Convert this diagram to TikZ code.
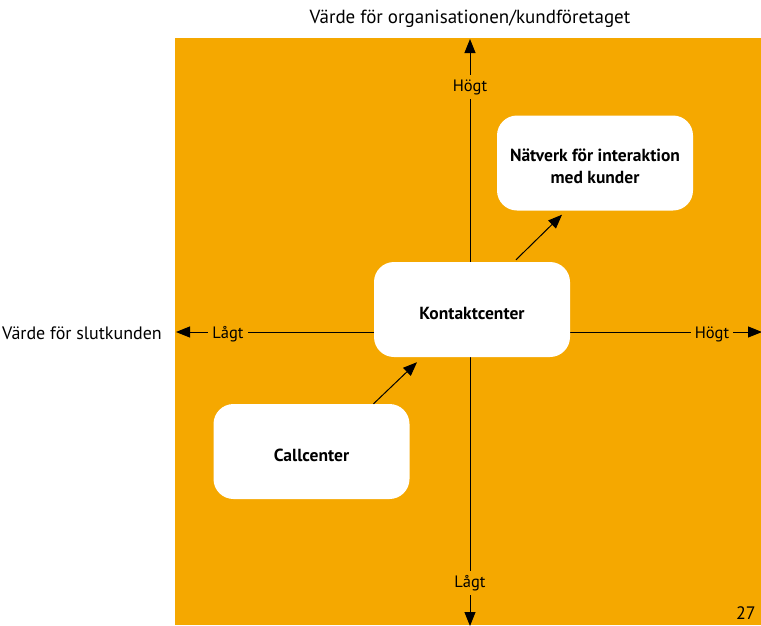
\documentclass[tikz,border=0pt]{standalone}
\usepackage{fontspec}
\setmainfont{PT Sans}
\usetikzlibrary{arrows.meta}
\definecolor{bgorange}{HTML}{F5A800}
\newcommand\lowtxt[1]{\raisebox{-3.5pt}[\height][\depth]{#1}}
\begin{document}
\begin{tikzpicture}[x=1pt,y=-1pt,
 box/.style={fill=white, rounded corners=20pt, minimum width=196pt, minimum height=95pt, align=center, inner sep=0pt, font=\fontsize{17.5}{22}\selectfont\bfseries},
 lbl/.style={fill=bgorange, inner sep=4pt, font=\fontsize{16.5}{18}\selectfont},
 ttl/.style={inner sep=0pt, font=\fontsize{18}{20}\selectfont},
 arr/.style={line width=1pt, -{Triangle[length=14pt,width=11pt]}}]
\useasboundingbox (0,0) rectangle (761,625);
\fill[bgorange] (175,38) rectangle (761,625);
% axes
\coordinate (o) at (470,332);
\coordinate (top) at (470,39);
\coordinate (bot) at (470,626);
\coordinate (lft) at (176,332);
\coordinate (rgt) at (762,332);
\draw[arr] (o) -- (top);
\draw[arr] (o) -- (bot);
\draw[arr] (o) -- (lft);
\draw[arr] (o) -- (rgt);
\node[lbl] (hy) at (470,87) {Högt};
\node[lbl] (ly) at (470,583) {Lågt};
\node[lbl] (lx) at (228,334) {Lågt};
\node[lbl] (hx) at (712,334) {Högt};
% titles
\node[ttl, font=\fontsize{19}{21}\selectfont] (ty) at (470,19) {Värde för organisationen/kundföretaget};
\node[ttl, anchor=east] (tx) at (162,333) {Värde för slutkunden};
\node[ttl, anchor=south east, inner sep=0pt] (pg) at (756,620) {27};
% boxes
\node[box] (nw) at (595,163) {\lowtxt{Nätverk för interaktion}\\\lowtxt{med kunder}};
\node[box] (kc) at (472,309.5) {\lowtxt{Kontaktcenter}};
\node[box] (cc) at (311.5,451.5) {\lowtxt{Callcenter}};
% connectors
\draw[arr] ([xshift=62pt]cc.north) -- ([xshift=-55pt,yshift=-5pt]kc.south);
\draw[arr] ([xshift=44pt,yshift=2pt]kc.north) -- ([xshift=-33pt,yshift=-4pt]nw.south);
\end{tikzpicture}
\end{document}
